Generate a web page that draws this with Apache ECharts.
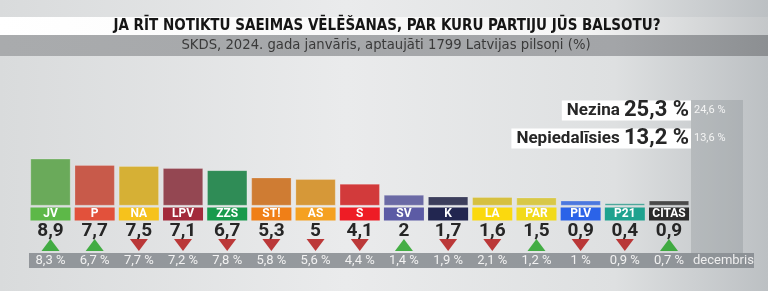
<!DOCTYPE html>
<html>
<head>
<meta charset="utf-8">
<script src="https://cdn.jsdelivr.net/npm/echarts@6/dist/echarts.min.js"></script>
<style>
  html, body { margin: 0; padding: 0; }
  #main { width: 768px; height: 291px; }
</style>
</head>
<body>
<div id="main"></div>
<script>
// dati
const parties = ['JV', 'P', 'NA', 'LPV', 'ZZS', 'STI', 'AS', 'S', 'SV', 'K', 'LA', 'PAR', 'PLV', 'P21', 'CITAS'];
const shownNames = ['JV', 'P', 'NA', 'LPV', 'ZZS', 'ST!', 'AS', 'S', 'SV', 'K', 'LA', 'PAR', 'PLV', 'P21', 'CITAS'];
const january = [8.9, 7.7, 7.5, 7.1, 6.7, 5.3, 5, 4.1, 2, 1.7, 1.6, 1.5, 0.9, 0.4, 0.9];
const december = [8.3, 6.7, 7.7, 7.2, 7.8, 5.8, 5.6, 4.4, 1.4, 1.9, 2.1, 1.2, 1, 0.9, 0.7];
const barColors = ['#6aaa5a', '#c85a4a', '#d6b035', '#944752', '#2f8c56', '#cf7c33', '#d69838', '#d23a3b',
  '#6b6aa5', '#3c3e5c', '#d6c040', '#d8c848', '#4c78de', '#3a9e90', '#4a4a4a'];
const boxColors = ['#5db848', '#e2513b', '#f6c21c', '#a32a3b', '#189a4c', '#f07f17', '#f5a121', '#ee1c25',
  '#5c5ba5', '#222650', '#fbd90e', '#f2da1a', '#2b63e8', '#1ea28f', '#2b2b2b'];
const otherNames = ['Nezina', 'Nepiedalīsies'];
const otherNow = [25.3, 13.2];
const otherPrev = [24.6, 13.6];
const prevMonth = 'decembris';

const fmt = v => String(v).replace('.', ',');
const font = 'Roboto, "DejaVu Sans", sans-serif';
const condensed = '"DejaVu Sans Condensed", "Liberation Sans Narrow", sans-serif';

const rich = { v: { fontFamily: font, fontSize: 19, fontWeight: 'bold', color: '#262626', lineHeight: 20, padding: [2, 0, 0, 0] } };
parties.forEach((p, i) => {
  rich['b' + i] = {
    backgroundColor: boxColors[i], color: '#fff', width: 40, height: 13, lineHeight: 13,
    align: 'center', fontFamily: font, fontSize: 12, fontWeight: 'bold'
  };
});

const chart = echarts.init(document.getElementById('main'));

const gLeft = 28.4, gRight = 76.9;

const graphics = [
  { type: 'rect', z: -20, silent: true, shape: { x: 0, y: 0, width: 768, height: 291 },
    style: { fill: new echarts.graphic.LinearGradient(0, 0, 1, 0, [
      { offset: 0, color: '#d9dbdc' }, { offset: 0.45, color: '#eaebec' },
      { offset: 0.8, color: '#dee0e1' }, { offset: 1, color: '#bcc0c3' }]) } },
  { type: 'rect', z: -15, silent: true, shape: { x: 0, y: 17, width: 768, height: 18 },
    style: { fill: new echarts.graphic.LinearGradient(0, 0, 1, 0, [
      { offset: 0, color: '#ffffff' }, { offset: 0.75, color: '#f6f6f6' }, { offset: 1, color: '#c4c7c9' }]) } },
  { type: 'rect', z: -15, silent: true, shape: { x: 0, y: 35, width: 768, height: 21 },
    style: { fill: new echarts.graphic.LinearGradient(0, 0, 1, 0, [
      { offset: 0, color: '#a9abad' }, { offset: 0.8, color: '#a3a5a8' }, { offset: 1, color: '#8c8f92' }]) } },
  { type: 'text', z: 10, x: 387, y: 26.5, style: {
      text: 'JA RĪT NOTIKTU SAEIMAS VĒLĒŠANAS, PAR KURU PARTIJU JŪS BALSOTU?', fontFamily: condensed,
      fontSize: 15, fontWeight: 'bold', fill: '#151515', align: 'center', verticalAlign: 'middle' } },
  { type: 'text', z: 10, x: 386, y: 45.5, style: {
      text: 'SKDS, 2024. gada janvāris, aptaujāti 1799 Latvijas pilsoņi (%)', fontFamily: condensed,
      fontSize: 14.7, fill: '#3a3a3a', align: 'center', verticalAlign: 'middle' } },
  // panelis labajā pusē
  { type: 'rect', z: -5, silent: true, shape: { x: 691, y: 100, width: 52, height: 153 },
    style: { fill: 'rgba(110,115,120,0.24)' } },
  // decembra josla
  { type: 'rect', z: -5, silent: true, shape: { x: 29, y: 253, width: 725, height: 15 },
    style: { fill: 'rgba(128,133,138,0.8)' } },
  { type: 'text', z: 10, x: 693, y: 260.5, style: {
      text: prevMonth, fontFamily: font, fontSize: 13, fill: '#eeeeee', verticalAlign: 'middle' } }
];

const boxTops = [100.5, 128.5];
otherNames.forEach((n, i) => {
  graphics.push({
    type: 'text', z: 10, x: 691, y: boxTops[i] + 10, style: {
      text: '{n|' + n + ' }{v|' + fmt(otherNow[i]) + ' %}',
      align: 'right', verticalAlign: 'middle', backgroundColor: '#ffffff',
      padding: [0, 2, 0, 5], height: 20, lineHeight: 20,
      rich: {
        n: { fontFamily: font, fontSize: 17, fontWeight: 'bold', fill: '#262626' },
        v: { fontFamily: font, fontSize: 22, fontWeight: 'bold', fill: '#262626' }
      }
    }
  });
  graphics.push({
    type: 'text', z: 10, x: 694, y: boxTops[i] + 10, style: {
      text: fmt(otherPrev[i]) + ' %', fontFamily: font, fontSize: 11, fill: '#f4f4f4', verticalAlign: 'middle' }
  });
});

const option = {
  animation: false,
  graphic: graphics,
  grid: [
    { left: gLeft, right: gRight, top: 153, bottom: 85.5 },
    { left: gLeft, right: gRight, top: 239, height: 12 }
  ],
  xAxis: [
    {
      type: 'category', gridIndex: 0, data: parties,
      axisLine: { show: false }, axisTick: { show: false },
      axisLabel: {
        margin: 2, interval: 0,
        formatter: (val, i) => '{b' + i + '|' + shownNames[i] + '}\n{v|' + fmt(january[i]) + '}',
        rich: rich
      }
    },
    {
      type: 'category', gridIndex: 1, data: parties,
      axisLine: { show: false }, axisTick: { show: false },
      axisLabel: {
        margin: 2, interval: 0, fontFamily: font, fontSize: 13, color: '#f2f2f2', lineHeight: 15,
        formatter: (val, i) => fmt(december[i]) + ' %'
      }
    }
  ],
  yAxis: [
    { type: 'value', gridIndex: 0, min: 0, max: 10, show: false },
    { type: 'value', gridIndex: 1, min: 0, max: 1, show: false }
  ],
  series: [
    {
      type: 'bar', xAxisIndex: 0, yAxisIndex: 0, barWidth: 40,
      data: january.map((v, i) => ({ value: v, itemStyle: { color: barColors[i] } })),
      itemStyle: { borderColor: 'rgba(255,255,255,0.35)', borderWidth: 0.6 }
    },
    {
      type: 'scatter', xAxisIndex: 1, yAxisIndex: 1, symbol: 'triangle', symbolSize: [18, 12],
      data: january.map((v, i) => {
        const up = v > december[i];
        return { value: [i, 0.5], symbolRotate: up ? 0 : 180, itemStyle: { color: up ? '#1c9f1c' : '#b00c0c' } };
      })
    }
  ]
};

chart.setOption(option);
</script>
</body>
</html>
